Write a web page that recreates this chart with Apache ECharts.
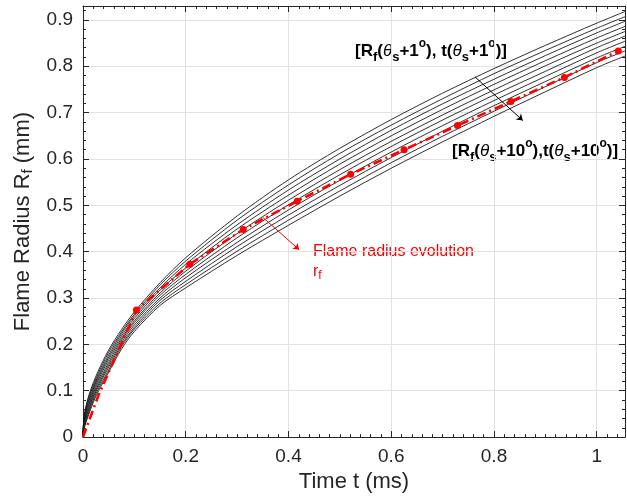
<!DOCTYPE html>
<html>
<head>
<meta charset="utf-8">
<script src="https://cdn.jsdelivr.net/npm/echarts@6/dist/echarts.min.js"></script>
<style>
html, body { margin: 0; padding: 0; background: #fff; }
#chart { width: 627px; height: 498px; }
</style>
</head>
<body>
<div id="chart"></div>
<script>
// time samples (ms) shared by the ten shifted curves
var timeMs = [0, 0.002, 0.01, 0.025, 0.05, 0.075, 0.1, 0.15, 0.2, 0.3, 0.4, 0.5, 0.6, 0.7, 0.8, 0.9, 1.0, 1.055];

// R_f for theta_s + 1 deg ... theta_s + 10 deg (mm)
var rShift1  = [0, 0.045, 0.085, 0.131, 0.188, 0.232, 0.270, 0.333, 0.387, 0.477, 0.555, 0.623, 0.685, 0.742, 0.795, 0.845, 0.893, 0.918];
var rShift2  = [0, 0.042, 0.081, 0.126, 0.183, 0.227, 0.265, 0.328, 0.380, 0.468, 0.544, 0.612, 0.673, 0.730, 0.784, 0.834, 0.882, 0.907];
var rShift3  = [0, 0.039, 0.076, 0.121, 0.177, 0.223, 0.261, 0.322, 0.373, 0.458, 0.533, 0.600, 0.662, 0.719, 0.772, 0.823, 0.872, 0.897];
var rShift4  = [0, 0.036, 0.072, 0.117, 0.172, 0.218, 0.256, 0.317, 0.365, 0.449, 0.522, 0.589, 0.650, 0.707, 0.761, 0.812, 0.861, 0.886];
var rShift5  = [0, 0.033, 0.067, 0.112, 0.167, 0.213, 0.251, 0.311, 0.358, 0.439, 0.511, 0.577, 0.638, 0.695, 0.749, 0.801, 0.850, 0.875];
var rShift6  = [0, 0.030, 0.063, 0.107, 0.161, 0.209, 0.247, 0.306, 0.351, 0.430, 0.501, 0.566, 0.627, 0.684, 0.738, 0.789, 0.840, 0.865];
var rShift7  = [0, 0.027, 0.058, 0.102, 0.156, 0.204, 0.242, 0.300, 0.344, 0.420, 0.490, 0.554, 0.615, 0.672, 0.726, 0.778, 0.829, 0.854];
var rShift8  = [0, 0.024, 0.054, 0.098, 0.151, 0.199, 0.237, 0.295, 0.336, 0.411, 0.479, 0.543, 0.603, 0.660, 0.715, 0.767, 0.818, 0.843];
var rShift9  = [0, 0.021, 0.049, 0.093, 0.145, 0.195, 0.233, 0.289, 0.329, 0.401, 0.468, 0.531, 0.592, 0.649, 0.703, 0.756, 0.808, 0.833];
var rShift10 = [0, 0.018, 0.045, 0.088, 0.140, 0.190, 0.228, 0.284, 0.322, 0.392, 0.457, 0.520, 0.580, 0.637, 0.692, 0.745, 0.797, 0.822];

// red flame radius evolution r_f
var flameTime   = [0, 0.03, 0.104, 0.208, 0.312, 0.417, 0.521, 0.625, 0.729, 0.833, 0.937, 1.042];
var flameRadius = [0, 0.09, 0.274, 0.373, 0.448, 0.509, 0.567, 0.620, 0.672, 0.724, 0.776, 0.833];
var flameMarked = [false, false, true, true, true, true, true, true, true, true, true, true];

// axes
var xMax = 1.055, xStep = 0.2;
var yMax = 0.93, yStep = 0.1;

var FONT = '"Liberation Sans", Arial, Helvetica, sans-serif';
var AXIS_COLOR = '#262626';

var chart = echarts.init(document.getElementById('chart'));

var shiftCurves = [rShift1, rShift2, rShift3, rShift4, rShift5, rShift6, rShift7, rShift8, rShift9, rShift10];
var series = shiftCurves.map(function (r, i) {
    return {
        name: 'shift' + (i + 1),
        type: 'line',
        data: timeMs.map(function (t, j) { return [t, r[j]]; }),
        showSymbol: false,
        smooth: 0.3,
        silent: true,
        lineStyle: { color: '#1a1a1a', width: 0.9 },
        z: 2
    };
});

series.push({
    name: 'flame',
    type: 'line',
    data: flameTime.map(function (t, j) {
        return { value: [t, flameRadius[j]], symbol: flameMarked[j] ? 'circle' : 'none' };
    }),
    showSymbol: true,
    symbolSize: 7,
    silent: true,
    itemStyle: { color: '#ff0000' },
    lineStyle: { color: '#ff0000', width: 2.6, type: [9, 4, 2, 4] },
    z: 5,
    markLine: {
        silent: true,
        symbol: ['none', 'arrow'],
        symbolSize: 6,
        label: { show: false },
        lineStyle: { type: 'solid', width: 1 },
        data: [
            [{ coord: [0.763, 0.777], lineStyle: { color: '#000', type: 'solid', width: 1 } }, { coord: [0.856, 0.683] }],
            [{ coord: [0.350, 0.474], lineStyle: { color: '#ff0000', type: 'solid', width: 1 } }, { coord: [0.421, 0.404] }]
        ]
    }
});

function boxAxis(isX, pos, showLabels, extra) {
    var ax = {
        type: 'value',
        position: pos,
        min: 0,
        max: isX ? xMax : yMax,
        interval: isX ? xStep : yStep,
        axisLine: { show: true, onZero: false, lineStyle: { color: AXIS_COLOR, width: 1 } },
        axisTick: { show: true, inside: true, length: 6, lineStyle: { color: AXIS_COLOR } },
        minorTick: { show: true, splitNumber: isX ? 10 : 5, length: 3, lineStyle: { color: AXIS_COLOR } },
        splitLine: { show: showLabels, lineStyle: { color: '#e2e2e2', width: 1 } },
        axisLabel: {
            show: showLabels,
            color: '#262626',
            fontSize: 19,
            fontFamily: FONT,
            margin: 10,
            showMaxLabel: false
        }
    };
    return Object.assign(ax, extra || {});
}

var titleRich = {
    n: { fontSize: 22, fontFamily: FONT, color: '#262626', lineHeight: 26 },
    sub: { fontSize: 15, fontFamily: FONT, color: '#262626', lineHeight: 14, verticalAlign: 'bottom' }
};

var boldRich = {
    b: { fontSize: 17, fontWeight: 'bold', fontFamily: FONT, fill: '#000', lineHeight: 26 },
    th: { fontSize: 17, fontStyle: 'italic', fontFamily: FONT, fill: '#000', lineHeight: 26 },
    sub: { fontSize: 13, fontWeight: 'bold', fontFamily: FONT, fill: '#000', lineHeight: 13, verticalAlign: 'bottom' },
    sup: { fontSize: 12, fontWeight: 'bold', fontFamily: FONT, fill: '#000', lineHeight: 13, verticalAlign: 'top' }
};

var option = {
    animation: false,
    backgroundColor: '#fff',
    grid: { left: 83, right: 2, top: 6, bottom: 57 },
    xAxis: [
        boxAxis(true, 'bottom', true, {
            name: '{n|Time t (ms)}',
            nameLocation: 'middle',
            nameGap: 30,
            nameTextStyle: { rich: titleRich }
        }),
        boxAxis(true, 'top', false)
    ],
    yAxis: [
        boxAxis(false, 'left', true, {
            name: '{n|Flame Radius R}{sub|f}{n| (mm)}',
            nameLocation: 'middle',
            nameGap: 46,
            nameTextStyle: { rich: titleRich }
        }),
        boxAxis(false, 'right', false)
    ],
    graphic: [
        {
            type: 'text',
            left: 355,
            top: 38,
            silent: true,
            style: {
                text: '{b|[R}{sub|f}{b|(}{th|θ}{sub|s}{b|+1}{sup|o}{b|), t(}{th|θ}{sub|s}{b|+1}{sup|o}{b|)]}',
                rich: boldRich
            }
        },
        {
            type: 'text',
            left: 452,
            top: 138,
            silent: true,
            style: {
                text: '{b|[R}{sub|f}{b|(}{th|θ}{sub|s}{b|+10}{sup|o}{b|),t(}{th|θ}{sub|s}{b|+10}{sup|o}{b|)]}',
                rich: boldRich
            }
        },
        {
            type: 'text',
            left: 313,
            top: 244,
            silent: true,
            style: {
                text: '{n|Flame radius evolution}\n{n|r}{sub|f}',
                rich: {
                    n: { fontSize: 16, fontFamily: FONT, fill: '#ff0000', lineHeight: 20 },
                    sub: { fontSize: 12, fontFamily: FONT, fill: '#ff0000', lineHeight: 12, verticalAlign: 'bottom' }
                }
            }
        }
    ],
    series: series
};

chart.setOption(option);
</script>
</body>
</html>
